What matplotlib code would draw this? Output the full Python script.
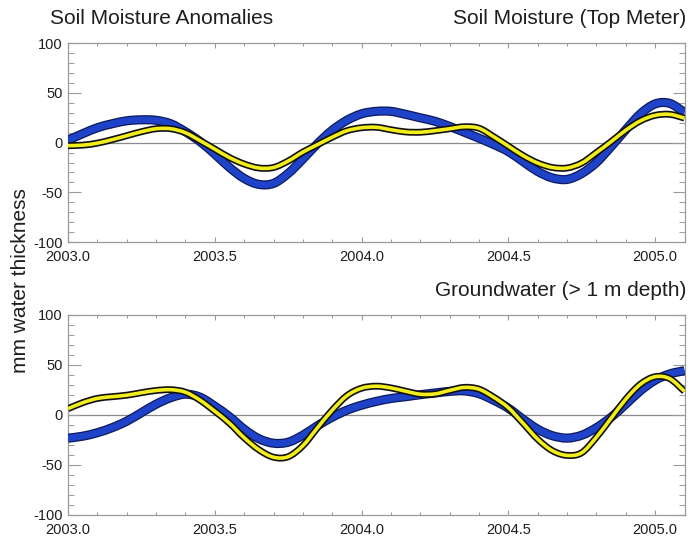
import matplotlib
matplotlib.use("Agg")
import matplotlib.pyplot as plt
import matplotlib.patheffects as pe
from matplotlib.path import Path
from matplotlib.patches import PathPatch
from matplotlib.ticker import MultipleLocator
import numpy as np

plt.rcParams["font.family"] = ["Liberation Sans", "DejaVu Sans"]

# Sample times (decimal years)
years = [2003.00, 2003.05, 2003.10, 2003.15, 2003.20, 2003.25, 2003.30, 2003.35,
         2003.40, 2003.45, 2003.50, 2003.55, 2003.60, 2003.65, 2003.70, 2003.75,
         2003.80, 2003.85, 2003.90, 2003.95, 2004.00, 2004.05, 2004.10, 2004.15,
         2004.20, 2004.25, 2004.30, 2004.35, 2004.40, 2004.45, 2004.50, 2004.55,
         2004.60, 2004.65, 2004.70, 2004.75, 2004.80, 2004.85, 2004.90, 2004.95,
         2005.00, 2005.05, 2005.10]

# Soil moisture (top meter), mm water thickness
soil_blue = [2.5, 9, 15, 19, 22, 23, 22.5, 19, 11, 1, -11.5, -25, -36, -42, -41,
             -31, -16.5, -1, 12.5, 22.5, 29, 31.5, 31.5, 28.5, 25, 21.5, 16.3,
             10.5, 4.5, -1.8, -9, -19, -29, -35.5, -37, -31, -20, -4, 13, 29,
             39, 39.5, 30.3]
soil_yellow = [-3, -2.5, -0.5, 3, 7, 11, 14, 14, 10, 2, -6.5, -15, -21.5, -25.5,
               -25, -18.5, -9.5, -2, 5.5, 12, 15, 15.5, 13, 10.8, 10.5, 12, 14,
               16, 14.5, 6, -3.5, -13, -20.5, -25, -25.5, -20.5, -10, 1, 12.5,
               22, 27.5, 28.5, 24.7]

# Groundwater (> 1 m depth), mm water thickness
gw_blue = [-23.5, -21.5, -18, -13, -6.5, 2, 10.5, 17, 20.5, 17.5, 8.5, -2, -14.5,
           -24, -28.5, -27.5, -20.5, -11, -2.5, 4.5, 9.5, 13.3, 16.2, 18, 20,
           21.7, 23.3, 23.8, 21, 14.5, 6.5, -4.5, -14.5, -21, -23.4, -20.5, -13,
           -2.5, 10.5, 24, 34.5, 40.8, 44]
gw_yellow = [6, 12, 16.3, 18, 19.5, 22, 24.2, 25, 22.5, 14.5, 3.5, -8.5, -23,
             -35, -42.5, -42, -31, -13, 4.5, 19, 26.5, 28.5, 26.8, 23.5, 20.5,
             20.8, 24.3, 27.3, 25.5, 17.5, 7, -8.5, -24.5, -36, -40.7, -38, -22.5,
             -3.5, 15.5, 30.5, 38, 36, 23.3]

x_ticks = [2003.0, 2003.5, 2004.0, 2004.5, 2005.0]
x_tick_labels = ["2003.0", "2003.5", "2004.0", "2004.5", "2005.0"]
y_ticks = [-100, -50, 0, 50, 100]
y_tick_labels = ["-100", "-50", "0", "50", "100"]

W, H = 689, 536
fig = plt.figure(figsize=(W / 100, H / 100), dpi=100)
fig.patch.set_facecolor("white")

frame_col = "#9a9a9a"
text_col = "#1e1e1e"
blue = "#1f43c8"
yellow = "#f2ee1c"

blue_fx = [pe.Stroke(linewidth=6.6, foreground="#0b1a5c"), pe.Normal()]
yellow_fx = [pe.Stroke(linewidth=5.0, foreground="#111111"), pe.Normal()]


def smooth_path(xs, ys):
    """Cubic Bezier path through every sample (Catmull-Rom tangents)."""
    p = np.column_stack([xs, ys]).astype(float)
    n = len(p)
    verts = [p[0]]
    codes = [Path.MOVETO]
    for i in range(n - 1):
        p_prev = p[i - 1] if i > 0 else p[i]
        p_next2 = p[i + 2] if i + 2 < n else p[i + 1]
        c1 = p[i] + (p[i + 1] - p_prev) / 6.0
        c2 = p[i + 1] - (p_next2 - p[i]) / 6.0
        verts += [c1, c2, p[i + 1]]
        codes += [Path.CURVE4] * 3
    return Path(np.array(verts), codes)


def style_axes(ax):
    ax.set_xlim(2003.0, 2005.1)
    ax.set_ylim(-100, 100)
    for s in ax.spines.values():
        s.set_color(frame_col)
        s.set_linewidth(0.9)
    ax.axhline(0, color="#8a8a8a", lw=0.9, zorder=1)
    ax.set_xticks(x_ticks)
    ax.set_xticklabels(x_tick_labels)
    ax.set_yticks(y_ticks)
    ax.set_yticklabels(y_tick_labels)
    ax.xaxis.set_minor_locator(MultipleLocator(0.1))
    ax.yaxis.set_minor_locator(MultipleLocator(10))
    ax.tick_params(axis="x", which="major", direction="in", length=3.5,
                   width=0.8, color=frame_col, top=True, bottom=True,
                   labelsize=10.5, labelcolor=text_col, pad=6)
    ax.tick_params(axis="x", which="minor", direction="in", length=2,
                   width=0.7, color=frame_col, top=True, bottom=True)
    ax.tick_params(axis="y", which="major", direction="in", length=9,
                   width=0.8, color=frame_col, left=True, right=True,
                   labelsize=10.5, labelcolor=text_col, pad=4)
    ax.tick_params(axis="y", which="minor", direction="in", length=4.5,
                   width=0.7, color=frame_col, left=True, right=True)


def draw(ax, b, y):
    for vals, col, lw, fx, z in ((b, blue, 4.8, blue_fx, 3),
                                 (y, yellow, 2.6, yellow_fx, 4)):
        patch = PathPatch(smooth_path(years, vals), facecolor="none",
                          edgecolor=col, lw=lw, capstyle="butt",
                          joinstyle="round", path_effects=fx, zorder=z)
        ax.add_patch(patch)


left = 68 / W
width = 616.5 / W
ax1 = fig.add_axes([left, 1 - 242 / H, width, 198.7 / H])
ax2 = fig.add_axes([left, 1 - 514.7 / H, width, 200 / H])
for ax in (ax1, ax2):
    style_axes(ax)
draw(ax1, soil_blue, soil_yellow)
draw(ax2, gw_blue, gw_yellow)

fig.text(50 / W, 1 - 18 / H, "Soil Moisture Anomalies", fontsize=15,
         color=text_col, ha="left", va="center")
fig.text(686 / W, 1 - 18 / H, "Soil Moisture (Top Meter)", fontsize=15,
         color=text_col, ha="right", va="center")
fig.text(686 / W, 1 - 291 / H, "Groundwater (> 1 m depth)", fontsize=15,
         color=text_col, ha="right", va="center")
fig.text(21 / W, 1 - 281 / H, "mm water thickness", fontsize=15,
         color=text_col, ha="center", va="center", rotation=90)

fig.savefig("out.png", dpi=100, facecolor="white")
